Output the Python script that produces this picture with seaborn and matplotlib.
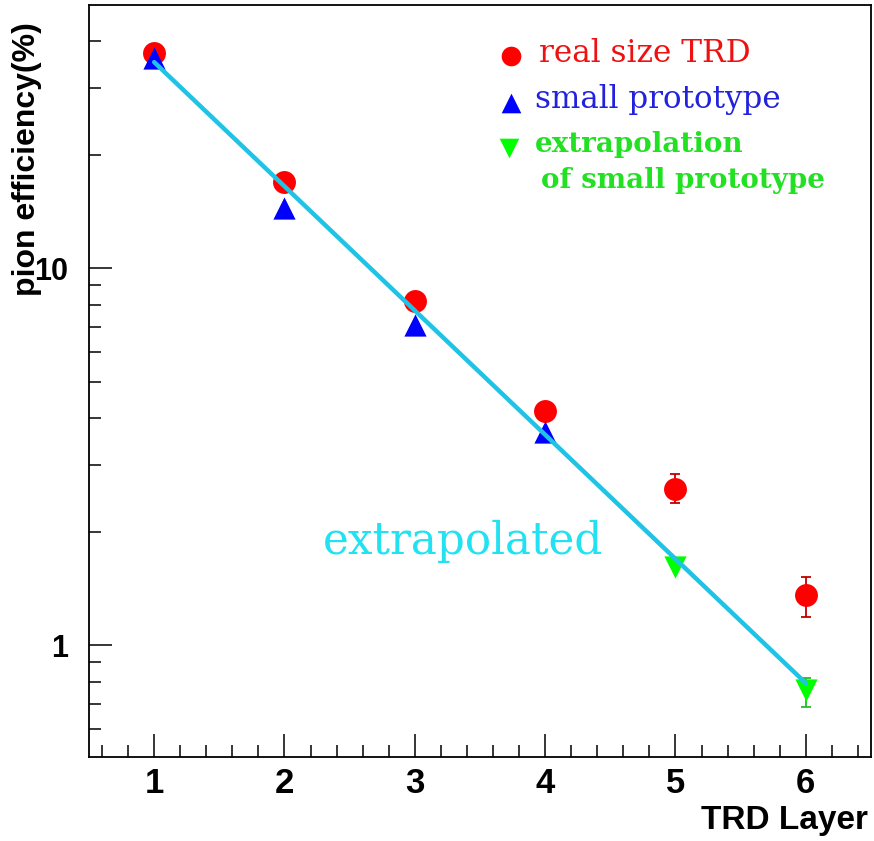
import numpy as np
import pandas as pd
import matplotlib
matplotlib.use("Agg")
import matplotlib.pyplot as plt
from matplotlib.ticker import FixedLocator, NullFormatter, MultipleLocator
import seaborn as sns

# Pion efficiency (%) per number of TRD layers
layers_real = [1, 2, 3, 4, 5, 6]
eff_real = [37.2, 16.9, 8.17, 4.18, 2.59, 1.36]
err_real_lo = [0.0, 0.0, 0.0, 0.0, 0.21, 0.17]
err_real_hi = [0.0, 0.0, 0.0, 0.0, 0.25, 0.16]

layers_proto = [1, 2, 3, 4]
eff_proto = [36.1, 14.4, 7.06, 3.67]

layers_extrap = [5, 6]
eff_extrap = [1.61, 0.76]
err_extrap_lo = [0.0, 0.075]
err_extrap_hi = [0.0, 0.058]

fit_x = [1, 6]
fit_y = [35.2, 0.793]

x_ticks = [1, 2, 3, 4, 5, 6]
y_ticks = [1, 10]
y_tick_labels = ["1", "10"]

RED = "#ff0000"
BLUE = "#0000ff"
GREEN = "#00ff00"
CYAN_LINE = "#1ec3e6"
CYAN_TEXT = "#22e2f2"

sns.set_theme(style="white")
plt.rcParams["font.family"] = ["Liberation Sans", "DejaVu Sans"]

fig = plt.figure(figsize=(8.74, 8.41), dpi=100)
ax = fig.add_axes([0.1018, 0.0999, 0.8947, 0.8942])

df_real = pd.DataFrame({"layer": layers_real, "eff": eff_real})
df_proto = pd.DataFrame({"layer": layers_proto, "eff": eff_proto})
df_extrap = pd.DataFrame({"layer": layers_extrap, "eff": eff_extrap})
df_fit = pd.DataFrame({"layer": fit_x, "eff": fit_y})

# error bars
ax.errorbar(layers_real, eff_real, yerr=[err_real_lo, err_real_hi], fmt="none",
            ecolor="#c00000", elinewidth=1.3, capsize=3.5, capthick=1.3, zorder=2)
ax.errorbar(layers_extrap, eff_extrap, yerr=[err_extrap_lo, err_extrap_hi], fmt="none",
            ecolor="#20c020", elinewidth=1.3, capsize=3.5, capthick=1.3, zorder=2)

sns.scatterplot(data=df_real, x="layer", y="eff", ax=ax, marker="o", s=272,
                color=RED, linewidth=0, zorder=3)
sns.scatterplot(data=df_proto, x="layer", y="eff", ax=ax, marker="^", s=256,
                color=BLUE, linewidth=0, zorder=3)
sns.scatterplot(data=df_extrap, x="layer", y="eff", ax=ax, marker="v", s=256,
                color=GREEN, linewidth=0, zorder=3)
sns.lineplot(data=df_fit, x="layer", y="eff", ax=ax, color=CYAN_LINE,
             linewidth=3.2, zorder=4)

ax.set_yscale("log")
ax.set_xlim(0.5, 6.5)
ax.set_ylim(0.505, 49.9)

# axis styling
for side, sp in ax.spines.items():
    sp.set_color("black")
    sp.set_linewidth(1.3)
ax.xaxis.set_major_locator(FixedLocator(x_ticks))
ax.xaxis.set_minor_locator(MultipleLocator(0.2))
ax.yaxis.set_major_locator(FixedLocator(y_ticks))
ax.set_yticklabels(y_tick_labels)
ax.yaxis.set_minor_locator(FixedLocator([0.6, 0.7, 0.8, 0.9, 2, 3, 4, 5, 6, 7, 8, 9, 20, 30, 40]))
ax.yaxis.set_minor_formatter(NullFormatter())
ax.tick_params(which="both", direction="in", color="black", width=1.1,
               bottom=True, left=True, top=False, right=False)
ax.tick_params(which="major", length=16.5)
ax.tick_params(which="minor", length=8.5)
ax.tick_params(axis="x", which="major", pad=7)
ax.tick_params(axis="y", which="major", pad=15)
for lab in ax.get_xticklabels():
    lab.set_fontweight("bold")
    lab.set_fontsize(25)
    lab.set_color("black")
for lab in ax.get_yticklabels():
    lab.set_fontweight("bold")
    lab.set_fontsize(22)
    lab.set_color("black")
ax.set_xlabel("")
ax.set_ylabel("")

fig.text(868 / 874, (841 - 820) / 841, "TRD Layer", ha="right", va="center",
         fontsize=24, fontweight="bold", color="black")
fig.text(27 / 874, (841 - 22) / 841, "pion efficiency(%)", ha="center", va="top",
         rotation=90, fontsize=23, fontweight="bold", color="black")

# legend
serif = ["DejaVu Serif"]
tx = ax.transAxes
ax.scatter([0.540], [0.932], transform=tx, marker="o", s=200, color=RED, linewidth=0, clip_on=False)
ax.scatter([0.540], [0.870], transform=tx, marker="^", s=200, color=BLUE, linewidth=0, clip_on=False)
ax.scatter([0.537], [0.810], transform=tx, marker="v", s=200, color=GREEN, linewidth=0, clip_on=False)
ax.text(0.575, 0.936, "real size TRD", transform=tx, ha="left", va="center",
        family=serif, fontsize=22.5, color="#ee1111")
ax.text(0.570, 0.874, "small prototype", transform=tx, ha="left", va="center",
        family=serif, fontsize=22.3, color="#2222dd")
ax.text(0.570, 0.814, "extrapolation", transform=tx, ha="left", va="center",
        family=serif, fontsize=20, fontweight="bold", color="#22e022")
ax.text(0.578, 0.767, "of small prototype", transform=tx, ha="left", va="center",
        family=serif, fontsize=20, fontweight="bold", color="#22e022")

ax.text(0.299, 0.287, "extrapolated", transform=tx, ha="left", va="center",
        family=serif, fontsize=31.5, color=CYAN_TEXT)

fig.savefig("out.png", dpi=100, facecolor="white")
